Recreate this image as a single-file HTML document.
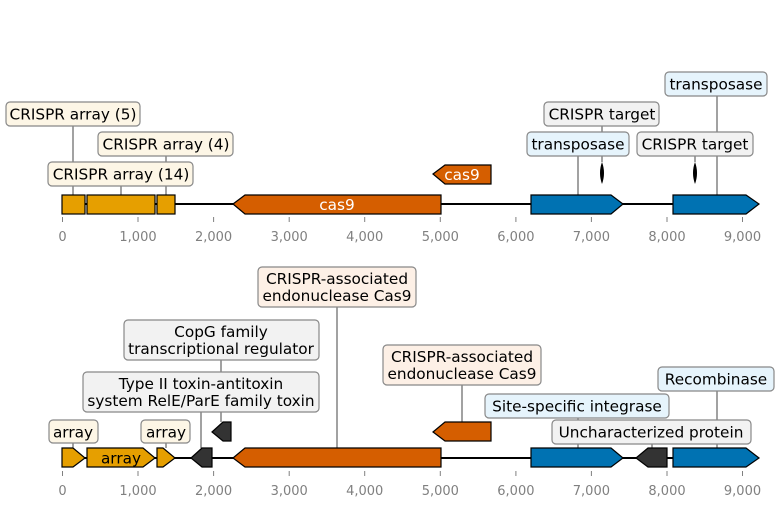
<!DOCTYPE html>
<html><head><meta charset="utf-8"><style>
body{margin:0;background:#fff}
svg{display:block}
text{font-family:"DejaVu Sans","Liberation Sans",sans-serif}
.lb{font-size:15.3px;fill:#000;text-anchor:middle}
.ax{font-size:13px;fill:#808080;text-anchor:middle}
.g{stroke:#000;stroke-width:1.2}
.ln{stroke:#444;stroke-width:1}
.bx{stroke:#888;stroke-width:1.2}
</style></head><body>
<svg width="780" height="505" viewBox="0 0 780 505" xmlns="http://www.w3.org/2000/svg">
<line x1="62" y1="204" x2="758" y2="204" stroke="#000" stroke-width="2"/>
<g class="ln">
<line x1="73" y1="126" x2="73" y2="195"/>
<line x1="166" y1="156" x2="166" y2="195"/>
<line x1="121" y1="186" x2="121" y2="195"/>
<line x1="717" y1="96" x2="717" y2="195"/>
<line x1="602" y1="126" x2="602" y2="162"/>
<line x1="578" y1="156" x2="578" y2="195"/>
<line x1="695" y1="156" x2="695" y2="162"/>
</g>
<g class="g">
<rect x="62" y="195" width="23" height="19" fill="#e69f00"/>
<rect x="87" y="195" width="68" height="19" fill="#e69f00"/>
<rect x="157" y="195" width="18" height="19" fill="#e69f00"/>
<polygon points="233,204 245,195 441,195 441,214 245,214" fill="#d55e00"/>
<polygon points="433,174 445,165 491,165 491,184 445,184" fill="#d55e00"/>
<polygon points="531,195 611,195 623,204 611,214 531,214" fill="#0072b2"/>
<polygon points="673,195 746,195 759,204 746,214 673,214" fill="#0072b2"/>
</g>
<path d="M602,162 Q598,173 602,184 Q606,173 602,162Z" fill="#000"/>
<path d="M695,162 Q691,173 695,184 Q699,173 695,162Z" fill="#000"/>
<text x="337" y="210" font-size="15.3" fill="#fff" text-anchor="middle">cas9</text>
<text x="462" y="180" font-size="15.3" fill="#fff" text-anchor="middle">cas9</text>
<g class="bx">
<rect x="6" y="102" width="134" height="24" rx="4" fill="#fdf6e6"/>
<rect x="98" y="132" width="135" height="24" rx="4" fill="#fdf6e6"/>
<rect x="48" y="162" width="145" height="24" rx="4" fill="#fdf6e6"/>
<rect x="665" y="72" width="102" height="24" rx="4" fill="#e6f4fc"/>
<rect x="544" y="102" width="115" height="24" rx="4" fill="#f2f2f2"/>
<rect x="527" y="132" width="102" height="24" rx="4" fill="#e6f4fc"/>
<rect x="637" y="132" width="116" height="24" rx="4" fill="#f2f2f2"/>
</g>
<text class="lb" x="73" y="119.5">CRISPR array (5)</text>
<text class="lb" x="166" y="149.5">CRISPR array (4)</text>
<text class="lb" x="121" y="179.5">CRISPR array (14)</text>
<text class="lb" x="716" y="89.5">transposase</text>
<text class="lb" x="602" y="119.5">CRISPR target</text>
<text class="lb" x="578" y="149.5">transposase</text>
<text class="lb" x="695" y="149.5">CRISPR target</text>
<g stroke="#808080" stroke-width="1">
<line x1="62.5" y1="217" x2="62.5" y2="222"/><line x1="138" y1="217" x2="138" y2="222"/><line x1="213.6" y1="217" x2="213.6" y2="222"/><line x1="289.2" y1="217" x2="289.2" y2="222"/><line x1="364.7" y1="217" x2="364.7" y2="222"/><line x1="440.3" y1="217" x2="440.3" y2="222"/><line x1="515.9" y1="217" x2="515.9" y2="222"/><line x1="591.4" y1="217" x2="591.4" y2="222"/><line x1="667" y1="217" x2="667" y2="222"/><line x1="742.5" y1="217" x2="742.5" y2="222"/>
<line x1="62.5" y1="471" x2="62.5" y2="476"/><line x1="138" y1="471" x2="138" y2="476"/><line x1="213.6" y1="471" x2="213.6" y2="476"/><line x1="289.2" y1="471" x2="289.2" y2="476"/><line x1="364.7" y1="471" x2="364.7" y2="476"/><line x1="440.3" y1="471" x2="440.3" y2="476"/><line x1="515.9" y1="471" x2="515.9" y2="476"/><line x1="591.4" y1="471" x2="591.4" y2="476"/><line x1="667" y1="471" x2="667" y2="476"/><line x1="742.5" y1="471" x2="742.5" y2="476"/>
</g>
<g class="ax">
<text x="62.5" y="241">0</text><text x="138" y="241">1,000</text><text x="213.6" y="241">2,000</text><text x="289.2" y="241">3,000</text><text x="364.7" y="241">4,000</text><text x="440.3" y="241">5,000</text><text x="515.9" y="241">6,000</text><text x="591.4" y="241">7,000</text><text x="667" y="241">8,000</text><text x="742.5" y="241">9,000</text>
<text x="62.5" y="495">0</text><text x="138" y="495">1,000</text><text x="213.6" y="495">2,000</text><text x="289.2" y="495">3,000</text><text x="364.7" y="495">4,000</text><text x="440.3" y="495">5,000</text><text x="515.9" y="495">6,000</text><text x="591.4" y="495">7,000</text><text x="667" y="495">8,000</text><text x="742.5" y="495">9,000</text>
</g>
<line x1="62" y1="458" x2="758" y2="458" stroke="#000" stroke-width="2"/>
<g class="ln">
<line x1="73" y1="443" x2="73" y2="448"/>
<line x1="166" y1="443" x2="166" y2="448"/>
<line x1="201" y1="412" x2="201" y2="448"/>
<line x1="221" y1="360" x2="221" y2="422"/>
<line x1="337" y1="307" x2="337" y2="448"/>
<line x1="462" y1="385" x2="462" y2="422"/>
<line x1="578" y1="418" x2="578" y2="448"/>
<line x1="717" y1="391" x2="717" y2="448"/>
<line x1="652" y1="444" x2="652" y2="448"/>
</g>
<g class="g">
<polygon points="62,448 73,448 85,458 73,467 62,467" fill="#e69f00"/>
<polygon points="87,448 143,448 155,458 143,467 87,467" fill="#e69f00"/>
<polygon points="157,448 163,448 175,458 163,467 157,467" fill="#e69f00"/>
<polygon points="191,458 202,448 212,448 212,467 202,467" fill="#333"/>
<polygon points="212,432 223,422 231,422 231,441 223,441" fill="#333"/>
<polygon points="233,458 245,448 441,448 441,467 245,467" fill="#d55e00"/>
<polygon points="433,432 445,422 491,422 491,441 445,441" fill="#d55e00"/>
<polygon points="531,448 611,448 623,458 611,467 531,467" fill="#0072b2"/>
<polygon points="636,458 648,448 667,448 667,467 648,467" fill="#333"/>
<polygon points="673,448 746,448 759,458 746,467 673,467" fill="#0072b2"/>
</g>
<text class="lb" x="121" y="463.5">array</text>
<g class="bx">
<rect x="49" y="420" width="49" height="23" rx="4" fill="#fdf6e6"/>
<rect x="141" y="420" width="49" height="23" rx="4" fill="#fdf6e6"/>
<rect x="83" y="372" width="236" height="40" rx="4" fill="#f2f2f2"/>
<rect x="124" y="320" width="195" height="40" rx="4" fill="#f2f2f2"/>
<rect x="258" y="267" width="158" height="40" rx="4" fill="#fdf0e6"/>
<rect x="383" y="345" width="158" height="40" rx="4" fill="#fdf0e6"/>
<rect x="485" y="394" width="184" height="24" rx="4" fill="#e6f4fc"/>
<rect x="658" y="367" width="116" height="24" rx="4" fill="#e6f4fc"/>
<rect x="552" y="420" width="199" height="24" rx="4" fill="#f2f2f2"/>
</g>
<text class="lb" x="73" y="437.5">array</text>
<text class="lb" x="166" y="437.5">array</text>
<text class="lb" x="201" y="389">Type II toxin-antitoxin</text>
<text class="lb" x="201" y="406">system RelE/ParE family toxin</text>
<text class="lb" x="221" y="337">CopG family</text>
<text class="lb" x="221" y="354">transcriptional regulator</text>
<text class="lb" x="337" y="284">CRISPR-associated</text>
<text class="lb" x="337" y="301">endonuclease Cas9</text>
<text class="lb" x="462" y="362">CRISPR-associated</text>
<text class="lb" x="462" y="379">endonuclease Cas9</text>
<text class="lb" x="577" y="411.5">Site-specific integrase</text>
<text class="lb" x="716" y="384.5">Recombinase</text>
<text class="lb" x="651" y="437.5">Uncharacterized protein</text>
</svg>
</body></html>
